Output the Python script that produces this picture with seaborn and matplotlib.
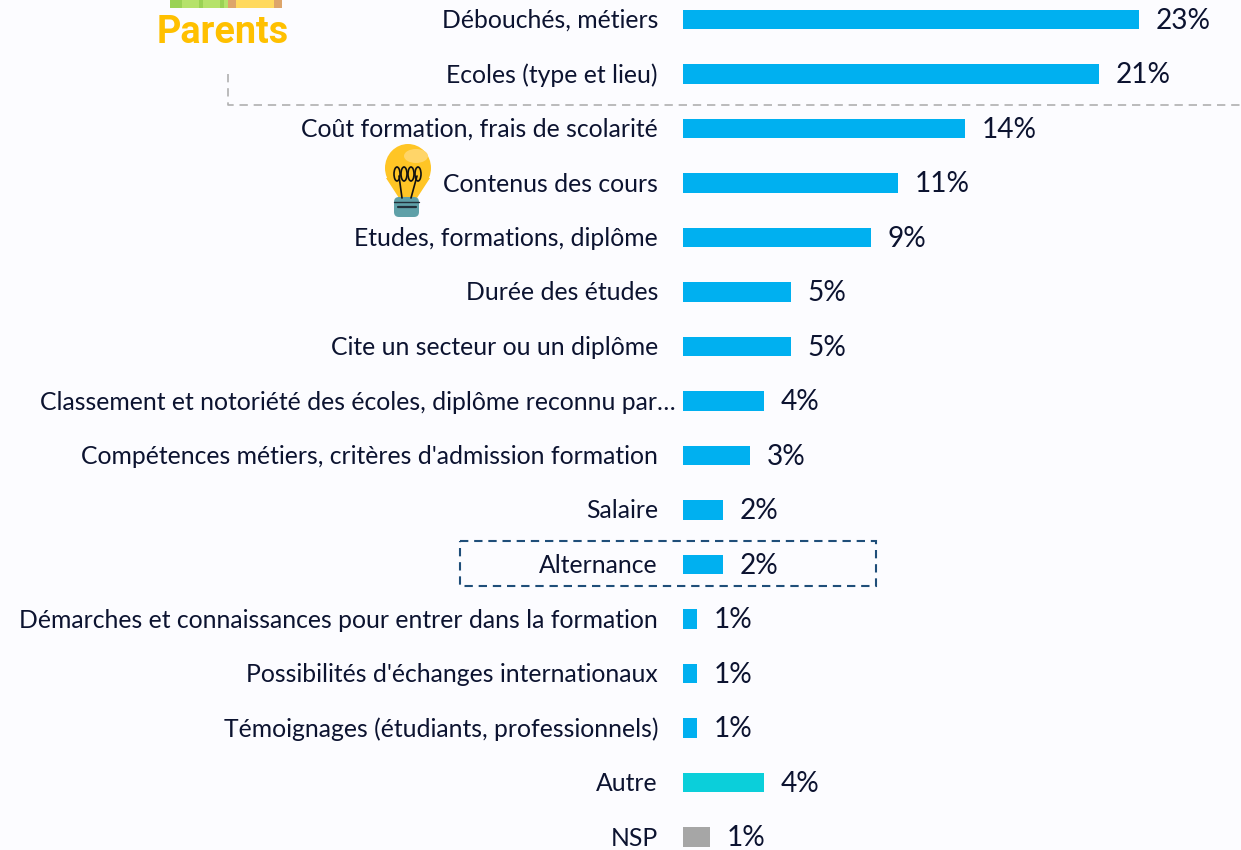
import matplotlib
matplotlib.use("Agg")
import matplotlib.pyplot as plt
from matplotlib.patches import Rectangle, Polygon, Ellipse, FancyBboxPatch
from matplotlib.transforms import ScaledTranslation
import pandas as pd
import seaborn as sns

categories = ["Débouchés, métiers", "Ecoles (type et lieu)", "Coût formation, frais de scolarité",
              "Contenus des cours", "Etudes, formations, diplôme", "Durée des études",
              "Cite un secteur ou un diplôme", "Classement et notoriété des écoles, diplôme reconnu par…",
              "Compétences métiers, critères d'admission formation", "Salaire", "Alternance",
              "Démarches et connaissances pour entrer dans la formation",
              "Possibilités d'échanges internationaux", "Témoignages (étudiants, professionnels)",
              "Autre", "NSP"]
values = [22.8, 20.8, 14.1, 10.75, 9.4, 5.4, 5.4, 4.05, 3.35, 2.0, 2.0, 0.7, 0.7, 0.7, 4.05, 1.35]
shown = ["23%", "21%", "14%", "11%", "9%", "5%", "5%", "4%", "3%", "2%", "2%", "1%", "1%", "1%", "4%", "1%"]
groups = ["item"] * 14 + ["autre", "nsp"]
colors = {"item": "#00B0F0", "autre": "#0BCFDA", "nsp": "#A6A6A6"}

BG = "#FCFCFF"
INK = "#0C1330"

sns.set_theme(style="white")
plt.rcParams["font.family"] = ["Lato", "DejaVu Sans"]

df = pd.DataFrame({"label": categories, "value": values, "group": groups})

fig = plt.figure(figsize=(12.41, 8.5), dpi=100, facecolor=BG)
ax = fig.add_axes([683 / 1241, 0, 558 / 1241, 1], facecolor="none")
sns.barplot(data=df, x="value", y="label", hue="group", palette=colors, dodge=False,
            width=0.36, legend=False, saturation=1, linewidth=0, ax=ax)
ax.set_xlim(0, 27.9)
ax.set_ylim((850 - 19.5) / 54.5, -19.5 / 54.5)
ax.set_xlabel("")
ax.set_ylabel("")
ax.set_xticks([])
sns.despine(ax=ax, left=True, bottom=True)
ax.tick_params(axis="y", length=0, pad=18, labelsize=17.8, labelcolor=INK)
ax.yaxis.get_major_ticks()[7].set_pad(5)
down = ScaledTranslation(0, -1 / 100, fig.dpi_scale_trans)
for lab in ax.get_yticklabels():
    lab.set_va("center")
    lab.set_transform(lab.get_transform() + down)

for i, (v, s) in enumerate(zip(values, shown)):
    ax.text(v + 0.83, i + 0.02, s, va="center", ha="left", fontsize=20.2, color=INK)

# overlay in pixel coordinates for the decorations
ov = fig.add_axes([0, 0, 1, 1], facecolor="none")
ov.set_xlim(0, 1241)
ov.set_ylim(850, 0)
ov.axis("off")

# book stack cut by the top edge
ov.add_patch(Rectangle((170, -4), 112, 12, color="#B5E26B", lw=0))
for x in (170, 199, 220):
    ov.add_patch(Rectangle((x, -4), 4 if x > 170 else 12, 12, color="#9AD254", lw=0))
ov.add_patch(Rectangle((228, -4), 54, 12, color="#FFD95F", lw=0))
ov.add_patch(Rectangle((228, -4), 8, 12, color="#DDA56B", lw=0))
ov.add_patch(Rectangle((274, -4), 8, 12, color="#DDA56B", lw=0))
ov.text(223, 32, "Parents", ha="center", va="center", fontsize=27.2, fontweight="bold",
        family="Roboto", color="#FFC000")

# grey dashed separator
ov.plot([228, 228, 1241], [74, 105, 105], color="#B0B0B0", lw=1.2, ls=(0, (5, 3.5)))

# dashed box around Alternance
ov.add_patch(Rectangle((460, 540.5), 416, 45.5, fill=False, ec="#1F4E79", lw=1.5, ls=(0, (4, 2.8))))

# lightbulb
ov.add_patch(Ellipse((408, 168), 46, 48, color="#FFC525", lw=0))
ov.add_patch(Polygon([(386, 178), (430, 178), (417, 198), (399, 198)], color="#FFC525", lw=0))
ov.add_patch(Ellipse((416, 156), 24, 14, color="#FFD569", lw=0))
ov.add_patch(FancyBboxPatch((394, 197), 25, 20, boxstyle="round,pad=0,rounding_size=5",
                            color="#5FA0A8", lw=0))
ov.plot([394, 419], [202, 202], color="#22303A", lw=1)
ov.plot([398, 416], [207, 207], color="#22303A", lw=1.6)
ov.plot([402, 399], [198, 176], color="#111111", lw=1.2)
ov.plot([411, 417], [198, 176], color="#111111", lw=1.2)
for x in (397, 404, 411, 418):
    ov.add_patch(Ellipse((x, 174), 6, 14, fill=False, ec="#111111", lw=1.2))

fig.savefig("out.png", dpi=100, facecolor=BG)
